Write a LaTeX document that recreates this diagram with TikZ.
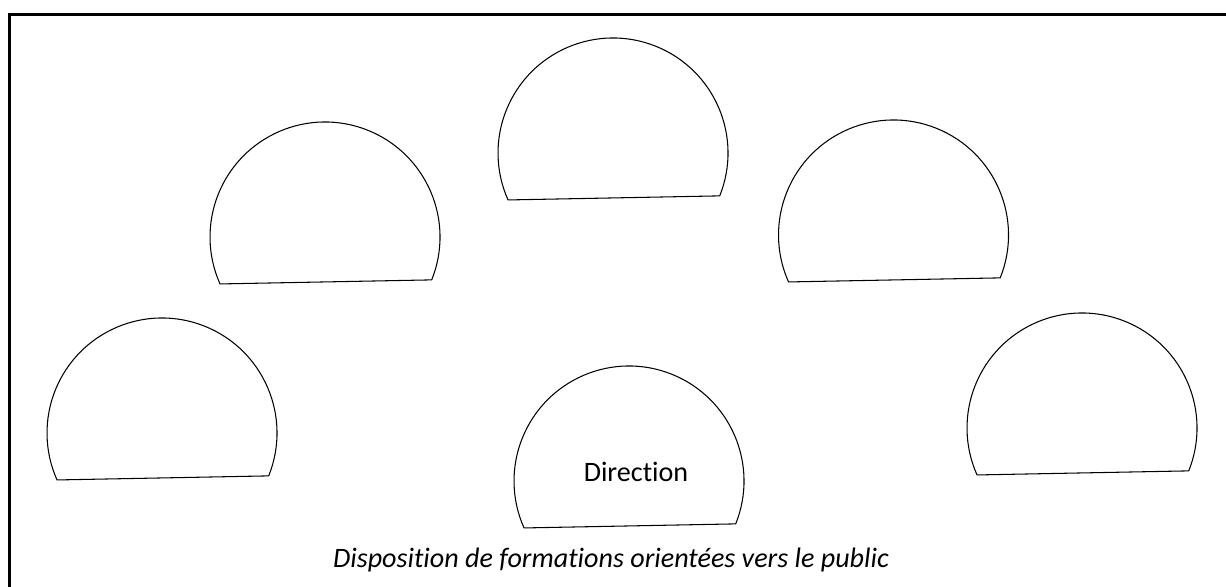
\documentclass[tikz,border=0pt]{standalone}
\usepackage{fontspec}
\setmainfont{Carlito}[Ligatures=NoCommon]
\usetikzlibrary{positioning}

\begin{document}
\begin{tikzpicture}[
    x=0.02cm, y=0.02cm,
    table/.style={draw,line width=0.6pt},
    frame/.style={draw,line width=1.7pt},
    label/.style={font=\fontsize{16}{19}\selectfont}
]
\useasboundingbox (0,0) rectangle (1226,587);

% Frame (top and left edges)
\coordinate (fbl) at (9.5,0);
\coordinate (ftl) at (9.5,572.3);
\coordinate (ftr) at (1226,572.3);
\draw[frame] (fbl) -- (ftl) -- (ftr);

% Tables (circle cut by a slightly tilted chord)
\foreach \name/\cx/\cy in {tc/613/434, ul/325/350, ur/893.5/352, ll/162/154, lr/1082/159, dir/629/106} {
  \coordinate (\name) at (\cx,\cy);
  \draw[table,shift={(\name)},rotate=1.1] (-23:115) arc[start angle=-23,end angle=203,radius=115] -- cycle;
}

% Labels
\node[label,anchor=base] (direction) at (636,105) {Direction};
\node[label,anchor=base,font=\fontsize{16}{19}\selectfont\itshape] (caption) at (611,19) {Disposition de formations orientées vers le public};

\end{tikzpicture}
\end{document}
